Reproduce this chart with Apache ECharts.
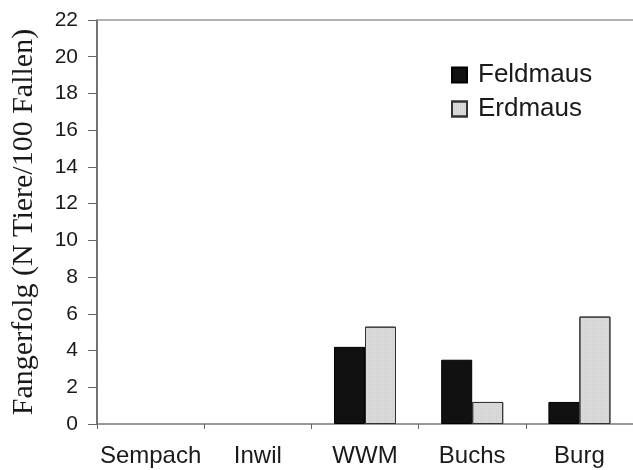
<!DOCTYPE html>
<html>
<head>
<meta charset="utf-8">
<script src="https://cdn.jsdelivr.net/npm/echarts@6/dist/echarts.min.js"></script>
<style>
  html, body { margin: 0; padding: 0; background: #fff; }
  #chart { width: 633px; height: 470px; }
</style>
</head>
<body>
<div id="chart"></div>
<script>
// Trap success per site, grouped by species
const sites = ['Sempach', 'Inwil', 'WWM', 'Buchs', 'Burg'];
const feldmaus = [0, 0, 4.2, 3.5, 1.2];
const erdmaus = [0, 0, 5.3, 1.2, 5.85];
const yTicks = { min: 0, max: 22, interval: 2 };

// zero catches get no bar at all (no outline sliver on the baseline)
const asBars = arr => arr.map(v => (v === 0 ? '-' : v));

const chart = echarts.init(document.getElementById('chart'), null, { renderer: 'canvas' });

const sansFont = '"Liberation Sans", Arial, sans-serif';
const serifFont = '"Liberation Serif", "Times New Roman", serif';

chart.setOption({
  animation: false,
  backgroundColor: '#ffffff',
  grid: { left: 97, right: 0, top: 20, bottom: 46, containLabel: false },
  legend: {
    data: ['Feldmaus', 'Erdmaus'],
    orient: 'vertical',
    left: 446,
    top: 57,
    icon: 'rect',
    itemWidth: 15,
    itemHeight: 15,
    itemGap: 8,
    textStyle: { fontFamily: sansFont, fontSize: 26, color: '#1a1a1a', padding: [0, 0, 0, 6] }
  },
  xAxis: [
    {
      type: 'category',
      data: sites,
      axisLine: { show: true, lineStyle: { color: '#777', width: 1.5 } },
      axisTick: { show: true, length: 5, alignWithLabel: false, lineStyle: { color: '#666' } },
      axisLabel: { interval: 0, fontFamily: sansFont, fontSize: 24, color: '#1a1a1a', margin: 20 }
    },
    {
      type: 'category',
      data: sites,
      position: 'top',
      axisLine: { show: true, lineStyle: { color: '#999', width: 1.5 } },
      axisTick: { show: false },
      axisLabel: { show: false }
    }
  ],
  yAxis: {
    type: 'value',
    min: yTicks.min,
    max: yTicks.max,
    interval: yTicks.interval,
    name: 'Fangerfolg (N Tiere/100 Fallen)',
    nameLocation: 'middle',
    nameGap: 58,
    nameTextStyle: { fontFamily: serifFont, fontSize: 30, color: '#1a1a1a' },
    axisLine: { show: true, lineStyle: { color: '#444', width: 1.5 } },
    axisTick: { show: true, length: 9, lineStyle: { color: '#666' } },
    axisLabel: { fontFamily: sansFont, fontSize: 21, color: '#1a1a1a', margin: 19 },
    splitLine: { show: false }
  },
  series: [
    {
      name: 'Feldmaus',
      type: 'bar',
      data: asBars(feldmaus),
      barWidth: 31,
      barGap: '0%',
      itemStyle: { color: '#111111', borderColor: '#000', borderWidth: 1 }
    },
    {
      name: 'Erdmaus',
      type: 'bar',
      data: asBars(erdmaus),
      barWidth: 31,
      barGap: '0%',
      itemStyle: {
        color: '#dadada',
        borderColor: '#333',
        borderWidth: 1,
        decal: {
          symbol: 'rect',
          symbolSize: 0.5,
          color: 'rgba(110,110,110,0.35)',
          dashArrayX: [1, 1],
          dashArrayY: [1, 1],
          rotation: 0
        }
      }
    }
  ]
});
</script>
</body>
</html>
